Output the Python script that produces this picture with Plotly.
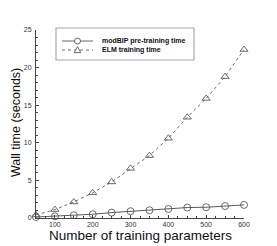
import plotly.graph_objects as go

# ---- data ----
params = [50, 100, 150, 200, 250, 300, 350, 400, 450, 500, 550, 600]
modbip_time = [0.13, 0.23, 0.36, 0.5, 0.72, 0.9, 1.03, 1.2, 1.39, 1.43, 1.6, 1.74]
elm_time = [0.4, 1.12, 2.14, 3.35, 4.8, 6.6, 8.3, 10.6, 13.4, 15.9, 18.8, 22.4]
series_names = ["modBIP pre-training time", "ELM training time"]
x_ticks = [100, 200, 300, 400, 500, 600]
y_ticks = [0, 5, 10, 15, 20, 25]

# page body adds an 8px offset; the figure is sized to fit the window
OFF = 8
W_FIG, H_FIG = 277 - OFF, 246 - OFF
ML, MR, MT, MB = 36 - OFF, 33, 30 - OFF, 28
PW, PH = W_FIG - ML - MR, H_FIG - MT - MB

def px(x):
    return (x - OFF - ML) / PW

def py(y):
    return (H_FIG - MB - (y - OFF)) / PH

LINE_C = "#5a5a5a"
AXIS_C = "#444444"
FONT = "Liberation Sans, Arial, Helvetica, sans-serif"

fig = go.Figure()
fig.add_trace(go.Scatter(
    x=params, y=modbip_time, name=series_names[0], mode="lines+markers",
    line=dict(color=LINE_C, width=1),
    marker=dict(symbol="circle-open", size=7, color=LINE_C, line=dict(width=0.9)),
    cliponaxis=False, showlegend=False))
fig.add_trace(go.Scatter(
    x=params, y=elm_time, name=series_names[1], mode="lines+markers",
    line=dict(color=LINE_C, width=0.9, dash="dot"),
    marker=dict(symbol="triangle-up-open", size=7, color=LINE_C, line=dict(width=0.9)),
    cliponaxis=False, showlegend=False))

axis_common = dict(
    showline=True, linecolor=AXIS_C, linewidth=1, showgrid=False, zeroline=False,
    ticks="inside", ticklen=3, tickcolor=AXIS_C, tickwidth=0.8,
    tickfont=dict(size=7, color="#333333", family=FONT),
)
fig.update_xaxes(range=[50, 600], tickvals=x_ticks, ticklabelstandoff=0,
                 minor=dict(dtick=25, tick0=0, ticks="inside", ticklen=2, tickcolor=AXIS_C),
                 **axis_common)
fig.update_yaxes(range=[0, 25], tickvals=y_ticks, ticklabelstandoff=2,
                 minor=dict(dtick=1, tick0=0, ticks="inside", ticklen=2, tickcolor=AXIS_C),
                 **axis_common)

annotations = [
    dict(text="Number of training parameters", xref="paper", yref="paper",
         x=px(140), y=py(235), xanchor="center", yanchor="middle", showarrow=False,
         font=dict(size=13.5, color="#111111", family=FONT)),
    dict(text="Wall time (seconds)", xref="paper", yref="paper", textangle=-90,
         x=px(16), y=py(123), xanchor="center", yanchor="middle", showarrow=False,
         font=dict(size=12.5, color="#111111", family=FONT)),
]
shapes = [
    dict(type="rect", xref="paper", yref="paper", x0=px(56), x1=px(194), y0=py(60), y1=py(28),
         line=dict(color="#aaaaaa", width=1.2), fillcolor="white"),
]
rows = [41, 50]
for i, name in enumerate(series_names):
    yrow = rows[i]
    shapes.append(dict(type="line", xref="paper", yref="paper", x0=px(62), x1=px(93),
                       y0=py(yrow), y1=py(yrow),
                       line=dict(color=LINE_C, width=0.9, dash="solid" if i == 0 else "dot")))
    if i == 0:
        r = 3
        shapes.append(dict(type="circle", xref="paper", yref="paper",
                           x0=px(77.5 - r), x1=px(77.5 + r), y0=py(yrow + r), y1=py(yrow - r),
                           line=dict(color=LINE_C, width=0.9), fillcolor="white"))
    else:
        cx, cy = 77.5, yrow
        path = "M {:.5f},{:.5f} L {:.5f},{:.5f} L {:.5f},{:.5f} Z".format(
            px(cx - 3.3), py(cy + 2.6), px(cx + 3.3), py(cy + 2.6), px(cx), py(cy - 3.4))
        shapes.append(dict(type="path", xref="paper", yref="paper", path=path,
                           line=dict(color=LINE_C, width=0.9), fillcolor="white"))
    annotations.append(dict(text="<b>" + name + "</b>", xref="paper", yref="paper",
                            x=px(100), y=py(yrow), xanchor="left", yanchor="middle",
                            showarrow=False, font=dict(size=7, color="#111111", family=FONT)))

fig.update_layout(
    width=W_FIG, height=H_FIG,
    margin=dict(l=ML, r=MR, t=MT, b=MB, pad=0),
    paper_bgcolor="white", plot_bgcolor="white",
    showlegend=False, annotations=annotations, shapes=shapes,
)
fig.write_html("out.html")
